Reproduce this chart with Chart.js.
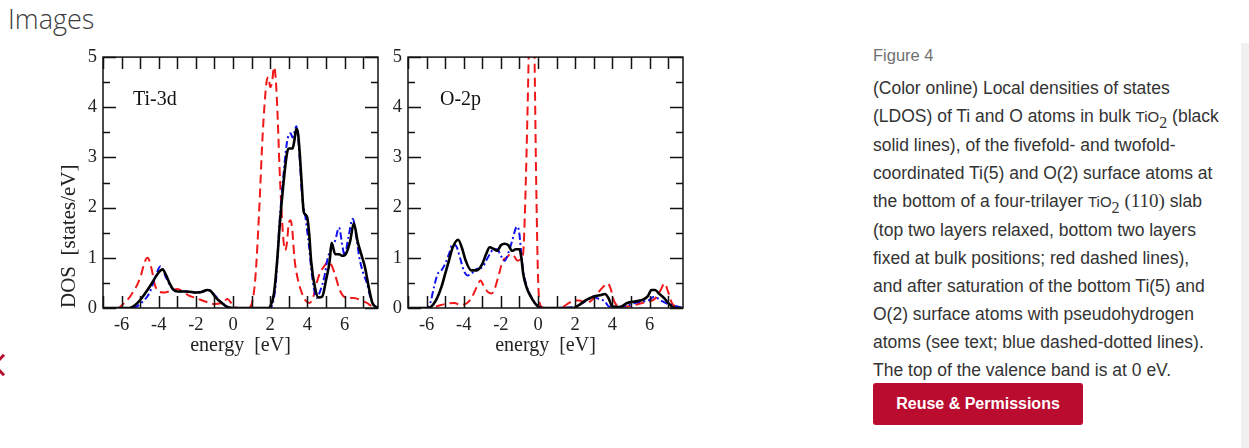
<!DOCTYPE html>
<html lang="en">
<head>
  <meta charset="UTF-8" />
  <title>Figure 4 - LDOS</title>
  <script src="https://cdn.jsdelivr.net/npm/chart.js"></script>
  <style>
    body { margin: 0; width: 1249px; height: 448px; background: #fff; position: relative; overflow: hidden; font-family: "Liberation Sans", Arial, sans-serif; }
    .heading { position: absolute; left: 8px; top: 0px; font-family: "Open Sans", sans-serif; font-weight: 300; font-size: 27px; line-height: 38px; color: #3c3c3c; }
    canvas { position: absolute; }
    .side { position: absolute; left: 873px; color: #333; white-space: nowrap; }
    .fig { top: 44px; font-size: 16.5px; color: #707070; line-height: 22px; }
    .caption { top: 74px; font-size: 17.5px; line-height: 28px; }
    .caption .m { font-size: 15px; }
    .caption .m sub { font-family: "Liberation Serif", serif; font-size: 16px; line-height: 0; vertical-align: -0.35em; }
    .caption .s { font-family: "Liberation Serif", serif; font-size: 19px; line-height: 0; }
    .btn { position: absolute; left: 873px; top: 383px; width: 210px; height: 42px; background: #ba0c2f; color: #fff; font-weight: bold; font-size: 16px; line-height: 42px; text-align: center; border-radius: 3px; }
    .scroll { position: absolute; left: 1241px; top: 43px; width: 8px; height: 405px; background: #f1f1f1; }
    .chev { position: absolute; left: -5px; top: 357px; width: 13px; height: 13px; border-left: 3px solid #b5112f; border-bottom: 3px solid #b5112f; transform: rotate(45deg); }
  </style>
</head>
<body>
  <div class="heading">Images</div>
  <div class="chev"></div>

  <canvas id="chart1" width="335" height="322" style="left:55px; top:40px;"></canvas>
  <canvas id="chart2" width="317" height="322" style="left:378px; top:40px;"></canvas>

  <div class="side fig">Figure 4</div>
  <div class="side caption">
    (Color online) Local densities of states<br>
    (LDOS) of Ti and O atoms in bulk <span class="m">TiO<sub>2</sub></span> (black<br>
    solid lines), of the fivefold- and twofold-<br>
    coordinated Ti(5) and O(2) surface atoms at<br>
    the bottom of a four-trilayer <span class="m">TiO<sub>2</sub></span> <span class="s">(110)</span> slab<br>
    (top two layers relaxed, bottom two layers<br>
    fixed at bulk positions; red dashed lines),<br>
    and after saturation of the bottom Ti(5) and<br>
    O(2) surface atoms with pseudohydrogen<br>
    atoms (see text; blue dashed-dotted lines).<br>
    The top of the valence band is at 0 eV.
  </div>
  <div class="btn">Reuse &amp; Permissions</div>
  <div class="scroll"></div>

  <script>
    // axis ticks
    const xTickLabels = [-6, -4, -2, 0, 2, 4, 6];
    const xMinorTicks = [-7, -5, -3, -1, 1, 3, 5, 7];
    const yTickLabels = [0, 1, 2, 3, 4, 5];
    const yMinorTicks = [0.5, 1.5, 2.5, 3.5, 4.5];

    // Ti-3d panel
    const tiBulkE = [-7, -5.6, -5.3, -5.0, -4.5, -4.2, -4.0, -3.8, -3.6, -3.4, -3.2, -3.0, -2.5, -2.0, -1.7, -1.4, -1.2, -1.0, -0.8, -0.6, -0.4, -0.2, 0, 1.9, 2.0, 2.2, 2.4, 2.5, 2.7, 2.9, 3.0, 3.2, 3.3, 3.4, 3.5, 3.6, 3.7, 3.8, 3.9, 4.0, 4.1, 4.2, 4.4, 4.6, 4.8, 5.0, 5.2, 5.3, 5.5, 5.7, 5.9, 6.1, 6.3, 6.5, 6.7, 6.9, 7.1, 7.3, 7.5, 7.7, 7.8];
    const tiBulk  = [0, 0, 0.05, 0.16, 0.42, 0.6, 0.71, 0.77, 0.65, 0.48, 0.36, 0.33, 0.33, 0.31, 0.32, 0.36, 0.34, 0.24, 0.16, 0.1, 0.04, 0.01, 0, 0, 0.03, 0.29, 1.07, 1.6, 2.44, 3.08, 3.18, 3.18, 3.34, 3.57, 3.47, 3.02, 2.44, 1.92, 1.86, 1.79, 1.46, 0.94, 0.42, 0.21, 0.23, 0.55, 0.94, 1.3, 1.07, 1.07, 1.04, 1.1, 1.33, 1.69, 1.33, 1.07, 0.81, 0.42, 0.1, 0.02, 0];

    const tiSatE = [-7, -5.4, -5.0, -4.5, -4.2, -3.9, -3.6, -3.3, -3.0, -2.5, -2.0, -1.6, -1.3, -1.0, -0.6, -0.3, 0, 2.0, 2.1, 2.3, 2.5, 2.7, 2.9, 3.0, 3.1, 3.2, 3.3, 3.4, 3.5, 3.6, 3.7, 3.8, 3.9, 4.0, 4.1, 4.2, 4.4, 4.5, 4.7, 4.9, 5.1, 5.3, 5.5, 5.7, 5.9, 6.0, 6.2, 6.45, 6.6, 6.8, 7.0, 7.2, 7.4, 7.6, 7.8];
    const tiSat  = [0, 0, 0.08, 0.3, 0.6, 0.83, 0.6, 0.4, 0.33, 0.33, 0.3, 0.33, 0.36, 0.26, 0.1, 0.02, 0, 0, 0.05, 0.5, 1.7, 2.6, 3.3, 3.45, 3.48, 3.4, 3.5, 3.62, 3.4, 2.9, 2.3, 2.0, 1.8, 1.5, 1.2, 0.8, 0.3, 0.2, 0.35, 0.6, 1.0, 1.2, 1.35, 1.6, 1.2, 1.05, 1.4, 1.78, 1.5, 1.0, 0.7, 0.5, 0.2, 0.05, 0];

    const tiSurfE = [-7, -6.2, -6.0, -5.5, -5.0, -4.75, -4.6, -4.4, -4.2, -4.0, -3.7, -3.3, -3.0, -2.7, -2.4, -2.0, -1.5, -1.0, -0.6, -0.3, -0.1, 0.1, 0.3, 0.8, 1.0, 1.2, 1.4, 1.6, 1.8, 1.9, 2.0, 2.1, 2.2, 2.3, 2.4, 2.5, 2.6, 2.7, 2.8, 2.9, 3.0, 3.1, 3.2, 3.3, 3.5, 3.7, 3.9, 4.1, 4.3, 4.5, 4.7, 4.9, 5.1, 5.3, 5.5, 5.7, 5.9, 6.2, 6.5, 6.9, 7.2, 7.5, 7.8];
    const tiSurf  = [0, 0, 0.05, 0.25, 0.6, 0.92, 1.0, 0.8, 0.45, 0.33, 0.31, 0.35, 0.38, 0.33, 0.25, 0.2, 0.13, 0.08, 0.1, 0.18, 0.1, 0.02, 0, 0, 0.08, 0.6, 1.9, 3.5, 4.5, 4.6, 4.4, 4.5, 4.8, 4.55, 3.8, 2.8, 2.0, 1.4, 1.15, 1.3, 1.7, 1.75, 1.5, 1.0, 0.55, 0.3, 0.15, 0.1, 0.2, 0.5, 0.72, 0.83, 0.92, 0.85, 0.65, 0.4, 0.25, 0.2, 0.2, 0.15, 0.1, 0.03, 0];

    // O-2p panel
    const oBulkE = [-7, -5.9, -5.5, -5.2, -5.0, -4.8, -4.6, -4.3, -4.1, -3.9, -3.6, -3.3, -3.0, -2.8, -2.6, -2.4, -2.2, -2.0, -1.8, -1.6, -1.4, -1.2, -1.0, -0.9, -0.8, -0.6, -0.4, -0.2, 0, 0.2, 1.9, 2.2, 2.6, 3.0, 3.4, 3.6, 3.8, 4.0, 4.4, 4.8, 5.2, 5.6, 5.9, 6.1, 6.3, 6.5, 6.8, 7.0, 7.2, 7.4, 7.8];
    const oBulk  = [0, 0, 0.15, 0.42, 0.68, 0.94, 1.2, 1.36, 1.2, 0.95, 0.75, 0.75, 0.88, 1.07, 1.21, 1.18, 1.14, 1.25, 1.28, 1.25, 1.14, 1.17, 1.17, 1.0, 0.68, 0.39, 0.23, 0.11, 0.03, 0, 0, 0.06, 0.16, 0.23, 0.26, 0.28, 0.19, 0.03, 0.02, 0.1, 0.13, 0.16, 0.23, 0.36, 0.36, 0.29, 0.19, 0.1, 0.03, 0, 0];

    const oSatE = [-7, -6.0, -5.8, -5.6, -5.4, -5.2, -5.0, -4.8, -4.6, -4.4, -4.2, -4.0, -3.8, -3.6, -3.3, -3.0, -2.8, -2.6, -2.4, -2.2, -2.0, -1.8, -1.6, -1.4, -1.2, -1.1, -1.0, -0.9, -0.8, -0.6, -0.4, -0.2, 0, 0.2, 2.0, 2.4, 2.8, 3.0, 3.2, 3.6, 3.8, 4.2, 4.8, 5.2, 5.6, 6.0, 6.2, 6.4, 6.7, 7.0, 7.3, 7.6, 7.8];
    const oSat  = [0, 0, 0.1, 0.42, 0.68, 0.75, 0.88, 1.07, 1.27, 1.23, 1.0, 0.75, 0.65, 0.68, 0.78, 0.81, 0.94, 1.07, 1.17, 1.17, 1.04, 0.94, 1.1, 1.33, 1.59, 1.62, 1.46, 1.07, 0.75, 0.42, 0.25, 0.12, 0.04, 0, 0.02, 0.1, 0.19, 0.23, 0.19, 0.13, 0.03, 0.02, 0.05, 0.1, 0.13, 0.16, 0.22, 0.2, 0.13, 0.08, 0.05, 0.02, 0];

    const oSurfE = [-7, -6.0, -5.5, -5.0, -4.5, -4.2, -3.9, -3.6, -3.3, -3.1, -2.9, -2.7, -2.5, -2.3, -2.1, -1.9, -1.7, -1.5, -1.3, -1.1, -0.9, -0.8, -0.7, -0.55, -0.45, -0.33, -0.2, -0.1, 0.0, 0.1, 0.3, 1.2, 1.5, 1.8, 2.2, 2.6, 2.9, 3.2, 3.5, 3.75, 3.9, 4.1, 4.4, 4.8, 5.2, 5.6, 6.0, 6.3, 6.6, 6.8, 7.0, 7.2, 7.4, 7.6, 7.8];
    const oSurf  = [0, 0, 0.03, 0.08, 0.1, 0.06, 0.08, 0.19, 0.42, 0.55, 0.42, 0.32, 0.29, 0.42, 0.68, 0.94, 1.0, 1.07, 1.04, 0.94, 1.0, 1.1, 2.0, 4.2, 6.0, 7.0, 5.2, 2.5, 0.6, 0.08, 0, 0, 0.06, 0.13, 0.15, 0.1, 0.16, 0.29, 0.42, 0.49, 0.39, 0.13, 0.03, 0.03, 0.06, 0.1, 0.13, 0.19, 0.36, 0.49, 0.32, 0.1, 0.03, 0, 0];

    const serif = '"Liberation Serif", "Times New Roman", serif';
    const pts = (xs, ys) => xs.map((x, i) => ({ x, y: ys[i] }));

    // box frame with inward ticks, like the grace plot
    const framePlugin = {
      id: 'frame',
      afterDatasetsDraw(chart, args, opts) {
        const { ctx, chartArea: a, scales } = chart;
        const xs = scales.x, ys = scales.y;
        ctx.save();
        ctx.strokeStyle = '#111';
        ctx.lineWidth = 1.5;
        ctx.strokeRect(a.left, a.top, a.right - a.left, a.bottom - a.top);
        ctx.beginPath();
        const xt = (v, len) => {
          const p = Math.round(xs.getPixelForValue(v)) + 0.5;
          ctx.moveTo(p, a.bottom); ctx.lineTo(p, a.bottom - len);
          ctx.moveTo(p, a.top); ctx.lineTo(p, a.top + len);
        };
        const yt = (v, len) => {
          const p = Math.round(ys.getPixelForValue(v)) + 0.5;
          ctx.moveTo(a.left, p); ctx.lineTo(a.left + len, p);
          ctx.moveTo(a.right, p); ctx.lineTo(a.right - len, p);
        };
        xTickLabels.forEach(v => xt(v, 12));
        xMinorTicks.forEach(v => xt(v, 12));
        yTickLabels.forEach(v => yt(v, 13));
        yMinorTicks.forEach(v => yt(v, 7));
        ctx.stroke();
        ctx.fillStyle = '#111';
        ctx.font = '20px ' + serif;
        ctx.textBaseline = 'middle';
        ctx.fillText(opts.label, a.left + opts.dx, a.top + 43);
        ctx.restore();
      }
    };

    function makePanel(id, label, dx, bulk, sat, surf, yTitle, yWidth) {
      return new Chart(document.getElementById(id), {
        type: 'line',
        data: {
          datasets: [
            { data: bulk, borderColor: '#000', borderWidth: 2.6, order: 1 },
            { data: sat, borderColor: '#1010ee', borderWidth: 2, borderDash: [7, 3, 2, 3], order: 2 },
            { data: surf, borderColor: '#f01818', borderWidth: 2, borderDash: [9, 5], order: 3 }
          ]
        },
        options: {
          responsive: false,
          animation: false,
          devicePixelRatio: 1,
          layout: { padding: { left: 0, right: 12, top: 12, bottom: 2 } },
          elements: {
            point: { radius: 0 },
            line: { tension: 0.4, cubicInterpolationMode: 'monotone', fill: false }
          },
          plugins: {
            legend: { display: false },
            tooltip: { enabled: false },
            frame: { label, dx }
          },
          scales: {
            x: {
              type: 'linear', min: -7, max: 7.8,
              grid: { display: false, drawTicks: false }, border: { display: false },
              afterBuildTicks: s => { s.ticks = xTickLabels.map(v => ({ value: v })); },
              afterFit: s => { s.height = 52; },
              ticks: { color: '#222', font: { family: serif, size: 18.5 }, padding: 6, maxRotation: 0 },
              title: { display: true, text: 'energy  [eV]', color: '#222', font: { family: serif, size: 20 }, padding: { top: 0, bottom: 2 } }
            },
            y: {
              type: 'linear', min: 0, max: 5,
              grid: { display: false, drawTicks: false }, border: { display: false },
              afterBuildTicks: s => { s.ticks = yTickLabels.map(v => ({ value: v })); },
              afterFit: s => { s.width = yWidth; },
              ticks: { color: '#222', font: { family: serif, size: 18.5 }, padding: 6 },
              title: { display: !!yTitle, text: yTitle, align: 'start', color: '#222', font: { family: serif, size: 21 }, padding: { top: 2, bottom: 0 } }
            }
          }
        },
        plugins: [framePlugin]
      });
    }

    makePanel('chart1', 'Ti-3d', 30, pts(tiBulkE, tiBulk), pts(tiSatE, tiSat), pts(tiSurfE, tiSurf), 'DOS  [states/eV]', 48);
    makePanel('chart2', 'O-2p', 32, pts(oBulkE, oBulk), pts(oSatE, oSat), pts(oSurfE, oSurf), '', 30);
  </script>
</body>
</html>
